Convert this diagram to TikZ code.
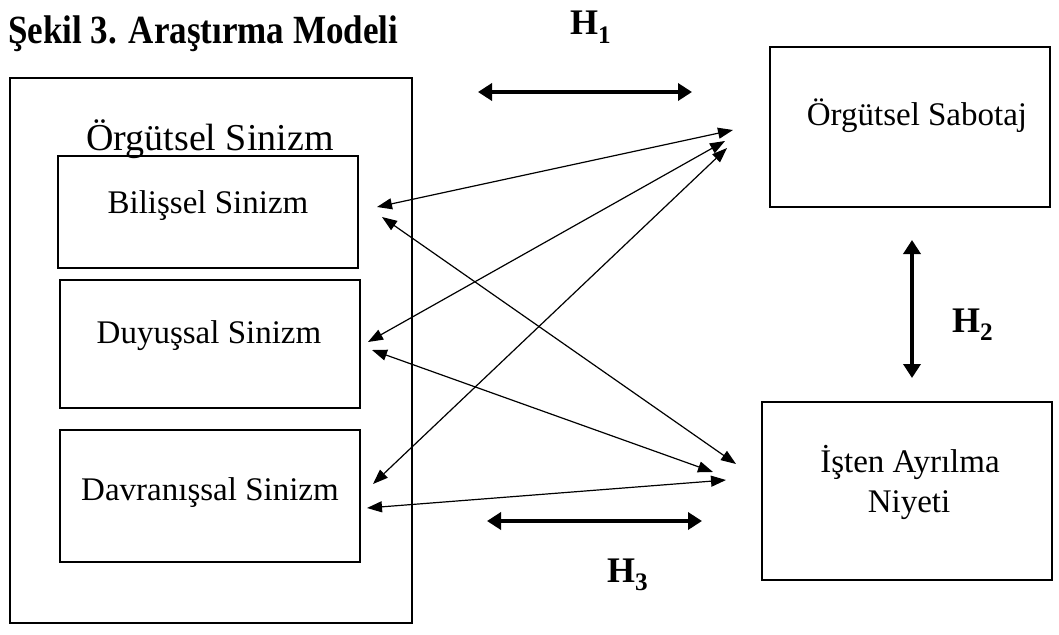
\documentclass[tikz,border=0pt]{standalone}
\usepackage{fontspec}
\usepackage{graphicx}
\setmainfont{Liberation Serif}
\usetikzlibrary{arrows.meta}
\begin{document}
\begin{tikzpicture}[x=1pt,y=-1pt,
  boxst/.style={draw,line width=2pt},
  thinarr/.style={line width=1.2pt,{Triangle[length=15pt,width=11pt]}-{Triangle[length=15pt,width=11pt]}},
  thickarr/.style={line width=4.5pt,{Triangle[length=14pt,width=17pt]}-{Triangle[length=14pt,width=17pt]}},
  lbl/.style={font=\fontsize{33}{38}\selectfont, align=center, inner sep=0pt},
  hlbl/.style={font=\bfseries\fontsize{36}{40}\selectfont, inner sep=0pt}
]
\useasboundingbox (0,0) rectangle (1059,634);
% boxes
\draw[boxst] (10,78) rectangle (412,623);
\draw[boxst] (58,156) rectangle (358,268);
\draw[boxst] (60,280) rectangle (360,408);
\draw[boxst] (60,430) rectangle (360,562);
\draw[boxst] (770,47) rectangle (1050,207);
\draw[boxst] (762,402) rectangle (1052,580);
% texts
\node[anchor=base west,inner sep=0pt,font=\bfseries\fontsize{40}{44}\selectfont] (title) at (8,44) {\scalebox{0.875}[1]{Şekil 3. Araştırma Modeli}};
\node[anchor=base west,hlbl] (h1) at (570,35) {H\textsubscript{1}};
\node[anchor=base west,hlbl] (h2) at (952,332) {H\textsubscript{2}};
\node[anchor=base west,hlbl] (h3) at (607,582) {H\textsubscript{3}};
\node[anchor=base,inner sep=0pt,font=\fontsize{38}{42}\selectfont] (os) at (210,150) {Örgütsel Sinizm};
\node[anchor=base,lbl] (bs) at (208,213) {Bilişsel Sinizm};
\node[anchor=base,lbl] (ds) at (209,343) {Duyuşsal Sinizm};
\node[anchor=base,lbl] (dvs) at (210,500) {Davranışsal Sinizm};
\node[anchor=base,lbl] (sab) at (917,125) {Örgütsel Sabotaj};
\node[anchor=base,lbl] (ia1) at (910,472) {İşten Ayrılma};
\node[anchor=base,lbl] (ia2) at (909,512) {Niyeti};
% coordinates
\coordinate (b1) at (377,207); \coordinate (s1) at (733,130);
\coordinate (b2) at (382,217); \coordinate (i1) at (736,464);
\coordinate (d1) at (368,342); \coordinate (s2) at (725,141);
\coordinate (d2) at (372,350); \coordinate (i2) at (713,472);
\coordinate (v1) at (373,484); \coordinate (s3) at (727,148);
\coordinate (v2) at (367,508); \coordinate (i3) at (726,480);
\coordinate (h1l) at (478,92); \coordinate (h1r) at (692,92);
\coordinate (h2t) at (912,240); \coordinate (h2b) at (912,378);
\coordinate (h3l) at (487,521); \coordinate (h3r) at (702,521);
% arrows
\draw[thinarr] (b1) -- (s1);
\draw[thinarr] (b2) -- (i1);
\draw[thinarr] (d1) -- (s2);
\draw[thinarr] (d2) -- (i2);
\draw[thinarr] (v1) -- (s3);
\draw[thinarr] (v2) -- (i3);
\draw[thickarr] (h1l) -- (h1r);
\draw[thickarr] (h2t) -- (h2b);
\draw[thickarr] (h3l) -- (h3r);
\end{tikzpicture}
\end{document}
